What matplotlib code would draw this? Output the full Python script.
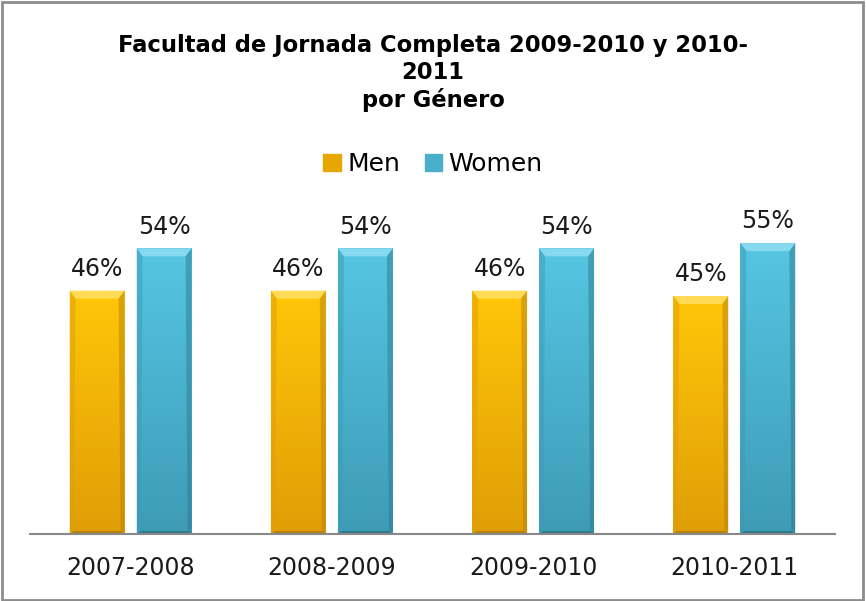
import numpy as np
import matplotlib.pyplot as plt
from matplotlib.patches import Polygon, Rectangle
from matplotlib.colors import LinearSegmentedColormap

# data
years = ["2007-2008", "2008-2009", "2009-2010", "2010-2011"]
men = [0.46, 0.46, 0.46, 0.45]
women = [0.54, 0.54, 0.54, 0.55]
series_names = ["Men", "Women"]

title = "Facultad de Jornada Completa 2009-2010 y 2010-\n2011\npor Género"

# colours: (top, bottom, bevel top, bevel bottom, legend)
men_cols = ("#FFC609", "#E09E06", "#FFDB55", "#B8810A", "#E8A600")
women_cols = ("#55C6E2", "#3E9BB6", "#86D9EE", "#2E7A90", "#4AAFCB")

plt.rcParams['font.family'] = ['DejaVu Sans']

fig = plt.figure(figsize=(8.66, 6.01), dpi=100)
ax = fig.add_axes([0.0346, 0.1115, 0.9296, 0.528])

x = np.arange(len(years))
bw = 0.273
off = 0.1665

bars_m = ax.bar(x - off, men, bw, color=men_cols[0], zorder=2)
bars_w = ax.bar(x + off, women, bw, color=women_cols[0], zorder=2)

ax.set_xlim(-0.5, len(years) - 0.5)
ax.set_ylim(0, 0.6)


def bevel(bars, cols):
    cmap = LinearSegmentedColormap.from_list("g", [cols[1], cols[0]])
    # pixel -> data scale
    px_x = 1.0 / 201.25
    px_y = 0.6 / 317.0
    for b in bars:
        x0, y0 = b.get_x(), b.get_y()
        w, h = b.get_width(), b.get_height()
        grad = np.linspace(0, 1, 100).reshape(-1, 1)
        im = ax.imshow(grad, aspect='auto', cmap=cmap, origin='lower',
                       extent=[x0, x0 + w, y0, y0 + h], zorder=2.1)
        im.set_clip_path(b)
        dx = 6 * px_x
        dy = 8 * px_y
        # top bevel
        ax.add_patch(Polygon([[x0, y0 + h], [x0 + w, y0 + h],
                              [x0 + w - dx, y0 + h - dy], [x0 + dx, y0 + h - dy]],
                             closed=True, color=cols[2], lw=0, zorder=2.2))
        # side bevels
        side_dx = 4 * px_x
        ax.add_patch(Polygon([[x0, y0 + h], [x0 + dx, y0 + h - dy],
                              [x0 + side_dx, y0 + 2 * px_y], [x0, y0]],
                             closed=True, color=cols[1], alpha=0.5, lw=0, zorder=2.2))
        ax.add_patch(Polygon([[x0 + w, y0 + h], [x0 + w - dx, y0 + h - dy],
                              [x0 + w - side_dx, y0 + 2 * px_y], [x0 + w, y0]],
                             closed=True, color=cols[3], alpha=0.5, lw=0, zorder=2.2))
        # bottom edge
        ax.add_patch(Polygon([[x0, y0], [x0 + w, y0],
                              [x0 + w - side_dx, y0 + 3 * px_y], [x0 + side_dx, y0 + 3 * px_y]],
                             closed=True, color=cols[3], lw=0, zorder=2.2))
        # label
        ax.annotate(f"{h * 100:.0f}%", (x0 + w / 2, y0 + h), xytext=(0, 7),
                    textcoords='offset points', ha='center', va='bottom',
                    fontsize=17, color='#1a1a1a')


bevel(bars_m, men_cols)
bevel(bars_w, women_cols)

for s in ['top', 'left', 'right']:
    ax.spines[s].set_visible(False)
ax.spines['bottom'].set_color('#888888')
ax.spines['bottom'].set_linewidth(1.5)
ax.set_yticks([])
ax.set_xticks(x)
ax.set_xticklabels(years, fontsize=17, color='#1a1a1a')
ax.tick_params(axis='x', length=0, pad=16)

fig.text(0.5, 0.943, title, ha='center', va='top', fontsize=16.3,
         fontweight='bold', linespacing=1.22)

handles = [Rectangle((0, 0), 1, 1, color=men_cols[4]),
           Rectangle((0, 0), 1, 1, color=women_cols[4])]
fig.legend(handles, series_names, loc='center', bbox_to_anchor=(0.5, 0.727),
           ncol=2, frameon=False, fontsize=18, handlelength=0.7,
           handleheight=0.7, handletextpad=0.25, columnspacing=1.0)

# outer border
fig.patches.append(Rectangle((0.002, 0.002), 0.994, 0.994, transform=fig.transFigure,
                             fill=False, edgecolor='#8c8c8c', lw=2))

fig.savefig("out.png", dpi=100)
